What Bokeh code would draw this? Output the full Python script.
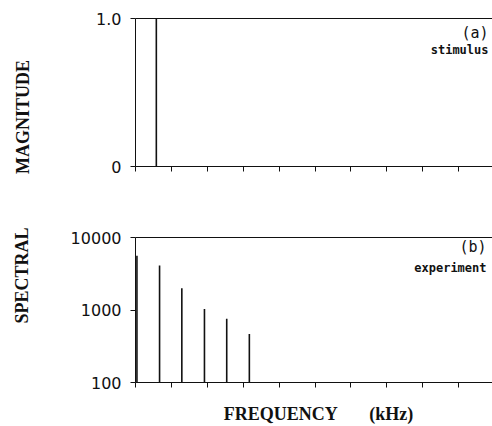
import math
from bokeh.plotting import figure
from bokeh.layouts import row, column
from bokeh.models import Range1d, FixedTicker, LinearAxis, Label, NumeralTickFormatter
from bokeh.core.properties import value
from bokeh.embed import file_html
from bokeh.resources import INLINE

# ---- data ----
freq_ticks = [0, 1, 2, 3, 4, 5, 6, 7, 8, 9]
stim_freq = [0.58]
stim_mag = [1.0]
exp_freq = [0.04, 0.67, 1.29, 1.92, 2.54, 3.17]
exp_mag = [5600, 4100, 2000, 1030, 760, 465]
mag_ticks = [0, 1.0]
mag_tick_labels = ["0", "1.0"]
spec_ticks = [100, 1000, 10000]
spec_tick_labels = ["100", "1000", "10000"]
x_max = 9.94

INK = "#111111"
TICK_FONT = "DejaVu Sans"
LABEL_FONT = "Liberation Serif"
MONO = "DejaVu Sans Mono"

xr = Range1d(0, x_max)

def style_common(p):
    p.toolbar_location = None
    p.xgrid.visible = False
    p.ygrid.visible = False
    p.outline_line_color = None
    p.background_fill_color = "white"
    p.border_fill_color = "white"
    for ax in p.xaxis + p.yaxis:
        ax.axis_line_color = INK
        ax.axis_line_width = 1
        ax.major_tick_line_color = INK
        ax.major_tick_out = 5
        ax.major_tick_in = 0
        ax.minor_tick_line_color = None
        ax.major_label_text_font = TICK_FONT
        ax.major_label_text_font_size = "16px"
        ax.major_label_text_color = INK
    p.xaxis.ticker = FixedTicker(ticks=freq_ticks)
    p.xaxis.major_label_overrides = {t: "" for t in freq_ticks}
    p.xaxis.major_label_standoff = 0
    p.yaxis.major_label_standoff = 9
    top_ax = LinearAxis(ticker=FixedTicker(ticks=[]), axis_line_color=INK,
                        major_tick_line_color=None, minor_tick_line_color=None,
                        major_label_standoff=0, major_tick_out=0)
    p.add_layout(top_ax, "above")

# ---- top panel ----
p1 = figure(width=452, height=208, x_range=xr, y_range=Range1d(0, 1.0),
            output_backend="svg", toolbar_location=None,
            min_border_left=95, min_border_right=0, min_border_top=18, min_border_bottom=42)
p1.segment(x0=stim_freq, y0=[0] * len(stim_freq), x1=stim_freq, y1=stim_mag,
           line_color=INK, line_width=1.6)
style_common(p1)
p1.yaxis.ticker = FixedTicker(ticks=mag_ticks)
p1.yaxis.major_label_overrides = {t: l for t, l in zip(mag_ticks, mag_tick_labels)}
p1.add_layout(Label(x=x_max, y=1.0, x_offset=-4, y_offset=-5, text="(a)",
                    text_align="right", text_baseline="top", text_font=MONO,
                    text_font_size="15px", text_color=INK))
p1.add_layout(Label(x=x_max, y=1.0, x_offset=-4, y_offset=-24, text="stimulus",
                    text_align="right", text_baseline="top", text_font=MONO,
                    text_font_style="bold", text_font_size="12px", text_color=INK))

# ---- bottom panel ----
p2 = figure(width=452, height=218, x_range=xr, y_range=Range1d(100, 10000),
            y_axis_type="log", output_backend="svg", toolbar_location=None,
            min_border_left=95, min_border_right=0, min_border_top=29, min_border_bottom=43)
p2.segment(x0=exp_freq, y0=[spec_ticks[0]] * len(exp_freq), x1=exp_freq, y1=exp_mag,
           line_color=INK, line_width=1.6)
style_common(p2)
p2.yaxis.ticker = FixedTicker(ticks=spec_ticks)
p2.yaxis.formatter = NumeralTickFormatter(format="0")
p2.yaxis.major_label_overrides = {t: l for t, l in zip(spec_ticks, spec_tick_labels)}
xb = p2.below[0]
xb.axis_label = "\u00a0" * 2 + "FREQUENCY" + "\u00a0" * 7 + "(kHz)"
xb.axis_label_text_font = LABEL_FONT
xb.axis_label_text_font_style = "bold"
xb.axis_label_text_font_size = "18px"
xb.axis_label_text_color = INK
xb.axis_label_standoff = 16
p2.add_layout(Label(x=x_max, y=10000, x_offset=-6, y_offset=0, text="(b)",
                    text_align="right", text_baseline="top", text_font=MONO,
                    text_font_size="15px", text_color=INK))
p2.add_layout(Label(x=x_max, y=10000, x_offset=-6, y_offset=-23, text="experiment",
                    text_align="right", text_baseline="top", text_font=MONO,
                    text_font_style="bold", text_font_size="12px", text_color=INK))

# ---- left label strip ----
pl = figure(width=40, height=426, x_range=Range1d(0, 40), y_range=Range1d(0, 426),
            output_backend="svg", toolbar_location=None,
            min_border=0, min_border_left=0, min_border_right=0,
            min_border_top=0, min_border_bottom=0)
pl.axis.visible = False
pl.xgrid.visible = False
pl.ygrid.visible = False
pl.outline_line_color = None
pl.text(x=[22.5, 21.5], y=[426 - 116.5, 426 - 275], text=["MAGNITUDE", "SPECTRAL"],
        angle=math.pi / 2, text_font=value(LABEL_FONT), text_font_style="bold",
        text_font_size="18px", text_align="center", text_baseline="middle",
        text_color=INK)

layout = row(pl, column(p1, p2, spacing=0), spacing=0)
open("out.html", "w").write(file_html(layout, INLINE))
